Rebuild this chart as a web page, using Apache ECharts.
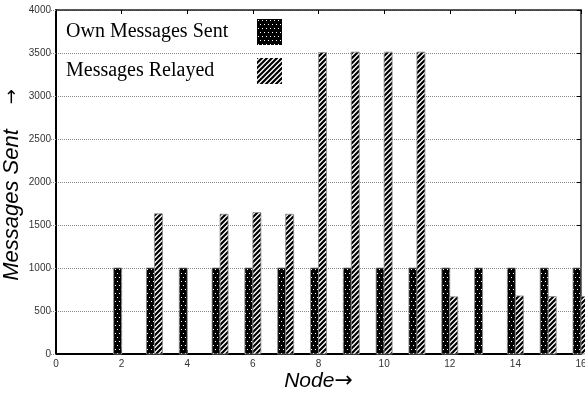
<!DOCTYPE html>
<html>
<head>
<meta charset="utf-8">
<script src="https://cdn.jsdelivr.net/npm/echarts@6/dist/echarts.min.js"></script>
<style>
html,body{margin:0;padding:0;background:#fff;}
#chart{width:585px;height:394px;}
</style>
</head>
<body>
<div id="chart"></div>
<script>
// ---- data ----
var nodes = [1, 2, 3, 4, 5, 6, 7, 8, 9, 10, 11, 12, 13, 14, 15, 16];
var ownSent = [0, 1000, 1000, 1000, 1000, 1000, 1000, 1000, 1000, 1000, 1000, 1000, 1000, 1000, 1000, 1000];
var relayed = [0, 0, 1630, 0, 1625, 1645, 1625, 3505, 3510, 3510, 3510, 665, 0, 675, 668, 668];
var seriesNames = ['Own Messages Sent', 'Messages Relayed'];
var xTicks = { min: 0, max: 16, interval: 2 };
var yTicks = { min: 0, max: 4000, interval: 500 };

// ---- patterns ----
function dotPattern() {
  var c = document.createElement('canvas');
  c.width = 4; c.height = 8;
  var g = c.getContext('2d');
  g.fillStyle = '#000'; g.fillRect(0, 0, 4, 8);
  g.fillStyle = '#fff';
  g.fillRect(1, 1, 1, 1);
  g.fillRect(3, 5, 1, 1);
  return c;
}
function stripePattern() {
  var c = document.createElement('canvas');
  c.width = 5; c.height = 5;
  var g = c.getContext('2d');
  g.fillStyle = '#fff'; g.fillRect(0, 0, 5, 5);
  g.strokeStyle = '#000'; g.lineWidth = 2.2;
  g.beginPath();
  g.moveTo(-1, 6); g.lineTo(6, -1);
  g.moveTo(-6, 6); g.lineTo(1, -1);
  g.moveTo(4, 6); g.lineTo(11, -1);
  g.stroke();
  return c;
}
var dotFill = { image: dotPattern(), repeat: 'repeat' };
var stripeFill = { image: stripePattern(), repeat: 'repeat' };

function pairs(vals) {
  return nodes.map(function (n, i) { return [n, vals[i]]; });
}

function makeRender(side) {
  return function (params, api) {
    var v = api.value(1);
    if (!v) return null;
    var base = api.coord([api.value(0), 0]);
    var top = api.coord([api.value(0), v]);
    var w = 8;
    var x = side < 0 ? base[0] - w : base[0];
    return {
      type: 'rect',
      shape: { x: x, y: top[1], width: w, height: base[1] - top[1] },
      style: {
        fill: side < 0 ? dotFill : stripeFill,
        stroke: '#8a8a8a',
        lineWidth: 0.8
      }
    };
  };
}

var chart = echarts.init(document.getElementById('chart'), null, { renderer: 'canvas' });
var labelFont = { fontFamily: 'Liberation Sans', fontSize: 10, color: '#333' };

chart.setOption({
  animation: false,
  backgroundColor: '#fff',
  grid: { left: 56, right: 4, top: 10, bottom: 40, containLabel: false, outerBoundsMode: 'none' },
  legend: {
    orient: 'vertical',
    left: 66,
    top: 19,
    padding: 0,
    align: 'right',
    icon: 'rect',
    itemWidth: 25,
    itemHeight: 26,
    itemGap: 13,
    data: seriesNames,
    formatter: function (name) { return '{t|' + name + '}'; },
    textStyle: {
      rich: {
        t: {
          width: 186,
          align: 'left',
          fontFamily: 'Liberation Serif',
          fontSize: 20,
          color: '#000'
        }
      }
    }
  },
  xAxis: [{
    type: 'value',
    min: xTicks.min, max: xTicks.max, interval: xTicks.interval,
    name: '{t|Node}{a|→}',
    nameLocation: 'middle',
    nameMoveOverlap: false,
    nameGap: 16,
    nameTextStyle: {
      rich: {
        t: { fontFamily: 'Liberation Sans', fontStyle: 'italic', fontSize: 21, color: '#000' },
        a: { fontFamily: 'DejaVu Sans', fontSize: 22, color: '#000' }
      }
    },
    axisLine: { show: true, onZero: false, lineStyle: { color: '#000', width: 2 } },
    axisTick: { show: true, inside: true, length: 4, lineStyle: { color: '#000' } },
    axisLabel: Object.assign({ margin: 5 }, labelFont),
    splitLine: { show: false }
  }, {
    type: 'value', position: 'top',
    min: xTicks.min, max: xTicks.max, interval: xTicks.interval,
    axisLine: { show: true, onZero: false, lineStyle: { color: '#222', width: 1.5 } },
    axisTick: { show: true, inside: true, length: 4, lineStyle: { color: '#000' } },
    axisLabel: { show: false },
    splitLine: { show: false }
  }],
  yAxis: [{
    type: 'value',
    min: yTicks.min, max: yTicks.max, interval: yTicks.interval,
    name: '{t|Messages Sent}{a|→}',
    nameLocation: 'middle',
    nameRotate: 90,
    nameMoveOverlap: false,
    nameGap: 33,
    nameTextStyle: {
      rich: {
        t: { fontFamily: 'Liberation Sans', fontStyle: 'italic', fontSize: 22, color: '#000' },
        a: { fontFamily: 'DejaVu Sans', fontSize: 18, color: '#000', padding: [0, 6, 0, 25] }
      }
    },
    axisLine: { show: true, onZero: false, lineStyle: { color: '#000', width: 2 } },
    axisTick: { show: true, inside: false, length: 5, lineStyle: { color: '#888', type: 'dotted' } },
    axisLabel: Object.assign({ margin: 5, formatter: function (v) { return String(v); } }, labelFont),
    splitLine: { show: true, lineStyle: { color: '#888', type: 'dotted', width: 1 } }
  }, {
    type: 'value', position: 'right',
    min: yTicks.min, max: yTicks.max, interval: yTicks.interval,
    axisLine: { show: true, onZero: false, lineStyle: { color: '#222', width: 1.5 } },
    axisTick: { show: true, inside: true, length: 4, lineStyle: { color: '#000' } },
    axisLabel: { show: false },
    splitLine: { show: false }
  }],
  series: [{
    name: seriesNames[0],
    type: 'custom',
    xAxisIndex: 0, yAxisIndex: 0,
    itemStyle: { color: dotFill },
    renderItem: makeRender(-1),
    encode: { x: 0, y: 1 },
    data: pairs(ownSent),
    clip: false
  }, {
    name: seriesNames[1],
    type: 'custom',
    xAxisIndex: 0, yAxisIndex: 0,
    itemStyle: { color: stripeFill },
    renderItem: makeRender(1),
    encode: { x: 0, y: 1 },
    data: pairs(relayed),
    clip: false
  }]
});
</script>
</body>
</html>
